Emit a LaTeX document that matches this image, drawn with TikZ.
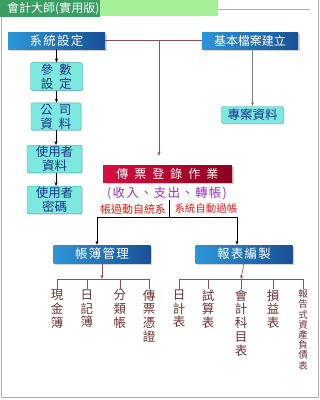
\documentclass[tikz,border=0pt]{standalone}
\usepackage{fontspec}
\setmainfont{Noto Sans CJK TC}
\newfontfamily\widecjk{Noto Sans CJK TC}[LetterSpace=10]
\usetikzlibrary{arrows.meta,shadows}

\definecolor{titlegreen}{RGB}{58,158,98}
\definecolor{lightgreen}{RGB}{165,240,150}
\definecolor{framegray}{RGB}{175,175,175}
\definecolor{blueL}{RGB}{45,150,215}
\definecolor{blueR}{RGB}{25,80,150}
\definecolor{cyanfill}{RGB}{125,232,222}
\definecolor{cyanline}{RGB}{60,170,170}
\definecolor{cyantext}{RGB}{25,50,140}
\definecolor{redL}{RGB}{215,15,65}
\definecolor{redR}{RGB}{140,0,30}
\definecolor{maroon}{RGB}{140,80,80}
\definecolor{purpletext}{RGB}{150,50,200}
\definecolor{redtext}{RGB}{220,30,30}
\definecolor{coltextcol}{RGB}{105,50,50}

\tikzset{
  bluebox/.style={left color=blueL, right color=blueR, text=white,
    minimum width=97pt, minimum height=17pt, inner sep=1pt,
    font=\widecjk\fontsize{12.5}{13}\selectfont,
    drop shadow={opacity=0.35, shadow xshift=1.5pt, shadow yshift=-1.5pt}},
  cyanbox/.style={fill=cyanfill, draw=cyanline, rounded corners=2pt, text=cyantext,
    align=center, inner sep=1pt, font=\fontsize{12.5}{14}\selectfont,
    drop shadow={opacity=0.25, shadow xshift=1pt, shadow yshift=-1pt}},
  redbox/.style={left color=redL, right color=redR, text=white,
    minimum width=129pt, minimum height=17pt, inner sep=1pt,
    font=\fontsize{12}{12.5}\selectfont,
    drop shadow={opacity=0.35, shadow xshift=1.5pt, shadow yshift=-1.5pt}},
  coltext/.style={anchor=north, align=center, text=coltextcol, inner sep=0.5pt,
    font=\fontsize{12.5}{13.7}\selectfont},
  maroonline/.style={draw=maroon, line width=0.6pt},
}

\begin{document}
\begin{tikzpicture}[x=1pt, y=-1pt, >={Stealth[length=4pt,width=3pt]}]
    \useasboundingbox (0,0) rectangle (320,400);

    % frame and title bar
    \draw[framegray] (1,17) -- (1,397) -- (318,397) -- (318,0);
    \draw[framegray] (218,9) -- (310,9);
    \fill[titlegreen] (0,0) rectangle (100,17);
    \fill[lightgreen] (100,0) rectangle (218,16);
    \node[text=white, anchor=west, inner sep=0pt, font=\fontsize{12}{12.5}\selectfont] (title) at (7,8.5) {會計大師(實用版)};

    % top row
    \node[bluebox] (sysset) at (56.5,40.5) {系統設定};
    \node[bluebox, minimum width=96pt, font=\fontsize{12}{12.5}\selectfont] (basic) at (250,40.5) {基本檔案建立};

    % setup column
    \node[cyanbox, minimum width=52pt, minimum height=27pt] (param) at (56.5,76.5) {參\hspace{6pt}數\\設\hspace{6pt}定};
    \node[cyanbox, minimum width=50pt, minimum height=25pt] (company) at (56,116.5) {公\hspace{6pt}司\\資\hspace{6pt}料};
    \node[cyanbox, minimum width=55pt, minimum height=26pt] (userdata) at (54.5,159) {使用者\\資料};
    \node[cyanbox, minimum width=55pt, minimum height=26pt] (userpwd) at (54.5,200) {使用者\\密碼};
    \node[cyanbox, minimum width=62pt, minimum height=17pt] (project) at (252.5,115) {專案資料};

    % voucher entry
    \node[redbox] (voucher) at (167.5,173.5) {傳\hspace{6pt}票\hspace{6pt}登\hspace{6pt}錄\hspace{6pt}作\hspace{6pt}業};
    \node[text=purpletext, inner sep=0pt, font=\widecjk\fontsize{12.5}{13}\selectfont] (kinds) at (167,193) {(收入、支出、轉帳)};
    \node[text=redtext, inner sep=0pt, font=\fontsize{11}{11.5}\selectfont] (postleft) at (133,209) {帳過動自統系};
    \node[text=redtext, inner sep=0pt, font=\fontsize{10.5}{11}\selectfont] (postright) at (206,209) {系統自動過帳};

    % lower row
    \node[bluebox, minimum height=18pt] (books) at (102,254) {帳簿管理};
    \node[bluebox, minimum height=18pt] (report) at (244,254) {報表編製};

    % books items
    \node[coltext] (cash) at (57,289) {現\\金\\簿};
    \node[coltext] (daybook) at (87,289) {日\\記\\簿};
    \node[coltext] (ledger) at (120,289) {分\\類\\帳};
    \node[coltext] (vouchbook) at (149,289) {傳\\票\\憑\\證};

    % report items
    \node[coltext] (daily) at (179,289) {日\\計\\表};
    \node[coltext] (trial) at (208,289) {試\\算\\表};
    \node[coltext] (subject) at (241,289) {會\\計\\科\\目\\表};
    \node[coltext] (profit) at (273,289) {損\\益\\表};
    \node[coltext, font=\fontsize{9.5}{10.2}\selectfont] (balance) at (303,289) {報\\告\\式\\資\\產\\負\\債\\表};

    % connectors
    \coordinate (topmid) at (159,40.5);
    \draw[maroonline] (sysset.east) -- (basic.west);
    \draw[maroonline, ->] (topmid) -- ([yshift=9]topmid |- voucher.north);
    \draw[gray, line width=0.8pt, ->] (project.north |- basic.south) -- (project.north);

    \draw[->] (sysset.south) -- (sysset.south |- param.north);
    \draw[->] (param.south) -- (param.south |- company.north);
    \draw[->] (company.south) -- (company.south |- userdata.north);
    \draw[->] (company.south |- userdata.south) -- (company.south |- userpwd.north);

    \coordinate (split) at (169,200);
    \coordinate (fork) at (169,217);
    \draw (split) -- (fork);
    \draw[->] (fork) -| ([xshift=-5]books.north);
    \draw[->] (fork) -| ([xshift=-7]report.north);

    \draw[maroonline, ->] (books.south) -- ([yshift=10]books.south |- cash.north);
    \draw[maroonline] (cash.north) -- ++(0,-10) -| (vouchbook.north);
    \draw[maroonline] (daybook.north) -- ++(0,-10);
    \draw[maroonline] (ledger.north) -- ++(0,-10);

    \draw[maroonline, ->] (report.south) -- ([yshift=10]subject.north);
    \draw[maroonline] (daily.north) -- ++(0,-10) -| (balance.north);
    \draw[maroonline] (trial.north) -- ++(0,-10);
    \draw[maroonline] (subject.north) -- ++(0,-10);
    \draw[maroonline] (profit.north) -- ++(0,-10);
\end{tikzpicture}
\end{document}
